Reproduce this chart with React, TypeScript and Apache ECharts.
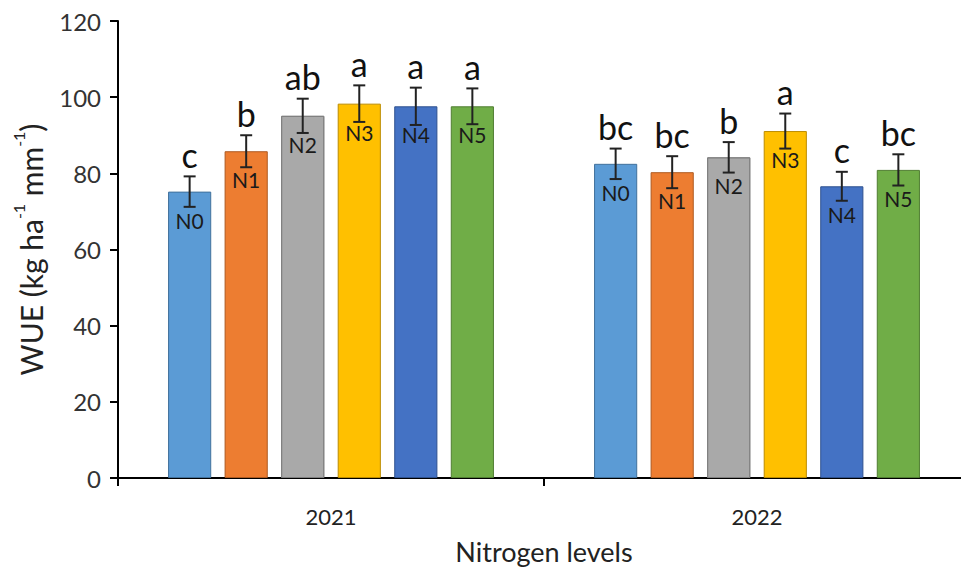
import React, { useEffect, useRef } from "react";
import * as echarts from "echarts";

const years = ["2021", "2022"];
const levels = ["N0", "N1", "N2", "N3", "N4", "N5"];
const wue2021 = [75.2, 85.8, 95.1, 98.3, 97.6, 97.6];
const wue2022 = [82.5, 80.3, 84.2, 91.1, 76.6, 80.9];
const err2021 = [4.0, 4.2, 4.5, 4.8, 4.9, 4.7];
const err2022 = [4.0, 4.2, 4.0, 4.6, 3.8, 4.1];
const letters2021 = ["c", "b", "ab", "a", "a", "a"];
const letters2022 = ["bc", "bc", "b", "a", "c", "bc"];

const colors = ["#5B9BD5", "#ED7D31", "#A9A9A9", "#FFC000", "#4472C4", "#70AD47"];
const borders = ["#41719C", "#AE5A21", "#7F7F7F", "#BC8C00", "#2F528F", "#507E32"];

const CAT_GAP = 0.235;
const BAR_GAP = 0.31;
const FONT = "Lato, 'Open Sans', sans-serif";

export default function App() {
  const ref = useRef<HTMLDivElement>(null);
  useEffect(() => {
    if (!ref.current) return;
    const chart = echarts.init(ref.current, null, { renderer: "svg" });
    const errData: any[] = [];
    levels.forEach((_, i) => {
      errData.push([0, i, wue2021[i], err2021[i], letters2021[i]]);
      errData.push([1, i, wue2022[i], err2022[i], letters2022[i]]);
    });
    const barSeries = levels.map((lv, i) => ({
      type: "bar",
      name: lv,
      data: [wue2021[i], wue2022[i]],
      barGap: BAR_GAP * 100 + "%",
      barCategoryGap: CAT_GAP * 100 + "%",
      itemStyle: {
        color: colors[i],
        borderColor: borders[i],
        borderWidth: 1,
        ...(i === 2
          ? {
              decal: {
                symbol: "circle",
                symbolSize: 0.7,
                color: "rgba(110,110,110,0.55)",
                dashArrayX: [[1, 2]],
                dashArrayY: [1, 2],
                rotation: 0.4,
              },
            }
          : {}),
      },
      label: {
        show: true,
        position: "insideTop",
        distance: 18,
        formatter: lv,
        fontFamily: FONT,
        fontSize: 21,
        color: "#1a1a1a",
      },
      z: 2,
    }));
    const option: any = {
      animation: false,
      grid: { left: 118, top: 21, width: 852, height: 457, outerBoundsMode: "none", containLabel: false },
      xAxis: {
        type: "category",
        data: years,
        axisLine: { show: true, lineStyle: { color: "#000", width: 2 } },
        axisTick: { show: true, length: 8, lineStyle: { color: "#000", width: 2 } },
        axisLabel: { fontFamily: FONT, fontSize: 22, color: "#222", margin: 27 },
        name: "Nitrogen levels",
        nameLocation: "middle",
        nameGap: 60,
        nameTextStyle: { fontFamily: FONT, fontSize: 27, color: "#222" },
      },
      yAxis: {
        type: "value",
        min: 0,
        max: 120,
        interval: 20,
        axisLine: { show: true, lineStyle: { color: "#000", width: 2 } },
        axisTick: { show: true, length: 8, lineStyle: { color: "#000", width: 2 } },
        splitLine: { show: false },
        axisLabel: { fontFamily: FONT, fontSize: 24, color: "#333", margin: 17 },
        name: "{a|WUE (kg ha}{s|-1}{a| mm}{s|-1}{a|)}",
        nameLocation: "middle",
        nameGap: 72,
        nameTextStyle: {
          fontFamily: FONT,
          color: "#222",
          rich: {
            a: { fontFamily: FONT, fontSize: 30, lineHeight: 36, verticalAlign: "bottom", color: "#222" },
            s: { fontFamily: FONT, fontSize: 16, lineHeight: 28, verticalAlign: "top", color: "#222" },
          },
        },
      },
      series: [
        ...barSeries,
        {
          type: "custom",
          data: errData,
          encode: { x: 0, y: 2 },
          z: 5,
          renderItem: (params: any, api: any) => {
            const cat = api.value(0);
            const idx = api.value(1);
            const v = api.value(2);
            const e = api.value(3);
            const letter = errData[params.dataIndex][4];
            const center = api.coord([cat, v]);
            const band = api.size([1, 0])[0];
            const groupW = band * (1 - CAT_GAP);
            const bw = groupW / (levels.length + (levels.length - 1) * BAR_GAP);
            const x = center[0] - groupW / 2 + bw / 2 + idx * bw * (1 + BAR_GAP);
            const yTop = api.coord([cat, v + e])[1];
            const yBot = api.coord([cat, v - e])[1];
            const cap = 6;
            const ls = { stroke: "#222", lineWidth: 2 };
            return {
              type: "group",
              children: [
                { type: "line", shape: { x1: x, y1: yTop, x2: x, y2: yBot }, style: ls },
                { type: "line", shape: { x1: x - cap, y1: yTop, x2: x + cap, y2: yTop }, style: ls },
                { type: "line", shape: { x1: x - cap, y1: yBot, x2: x + cap, y2: yBot }, style: ls },
                {
                  type: "text",
                  style: {
                    text: letter,
                    x: x,
                    y: yTop - 5,
                    align: "center",
                    verticalAlign: "bottom",
                    fill: "#111",
                    font: `34px ${FONT}`,
                  },
                },
              ],
            };
          },
        },
      ],
    };
    chart.setOption(option);
    return () => chart.dispose();
  }, []);
  return (
    <div
      ref={ref}
      style={{ position: "fixed", left: 0, top: 0, width: 961, height: 570, background: "#fff" }}
    />
  );
}
